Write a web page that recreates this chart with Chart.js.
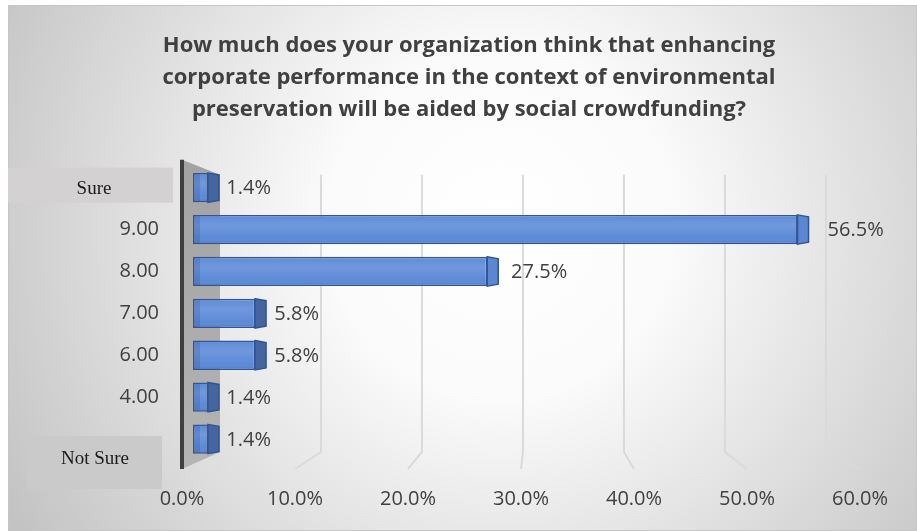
<!DOCTYPE html>
<html>
<head>
<meta charset="utf-8">
<script src="https://cdn.jsdelivr.net/npm/chart.js@4.4.1/dist/chart.umd.min.js"></script>
<style>
  html, body { margin: 0; padding: 0; background: #fff; }
  #wrap { width: 917px; height: 531px; }
</style>
</head>
<body>
<div id="wrap"><canvas id="survey"></canvas></div>
<script>
// Answers, top to bottom
const categories = ['Sure', '9.00', '8.00', '7.00', '6.00', '4.00', 'Not Sure'];
const shares = [1.4, 56.5, 27.5, 5.8, 5.8, 1.4, 1.4];
const axisTicks = [0, 10, 20, 30, 40, 50, 60];
const boxedLabels = ['Sure', 'Not Sure'];
const titleLines = [
    'How much does your organization think that enhancing',
    'corporate performance in the context of environmental',
    'preservation will be aided by social crowdfunding?'
];

const SANS = "'Open Sans', 'DejaVu Sans', sans-serif";
const SERIF = "'Liberation Serif', 'DejaVu Serif', serif";
const TEXT = '#404040';

// Panel background with the soft radial fill
const panelPlugin = {
    id: 'panel',
    beforeDraw(chart) {
        const { ctx, width, height } = chart;
        ctx.save();
        ctx.fillStyle = '#ffffff';
        ctx.fillRect(0, 0, width, height);
        const g = ctx.createRadialGradient(500, 225, 0, 500, 225, 570);
        g.addColorStop(0, '#ffffff');
        g.addColorStop(0.3, '#fbfbfb');
        g.addColorStop(1, '#c3c3c3');
        ctx.fillStyle = g;
        ctx.fillRect(8, 5, width - 8, height - 5);
        ctx.strokeStyle = '#c6c6c6';
        ctx.lineWidth = 1;
        ctx.strokeRect(8.5, 5.5, width - 9, height - 6);
        ctx.restore();
    }
};

// Back wall gridlines, floor returns and the left side wall
const wallPlugin = {
    id: 'wall',
    beforeDatasetsDraw(chart) {
        const { ctx, chartArea: a, scales } = chart;
        const front = scales.xl, back = scales.xb;
        const backTop = a.top + 8, backBottom = a.bottom - 8;
        const frontTop = a.top - 7, frontBottom = a.bottom + 9;
        ctx.save();
        ctx.strokeStyle = '#dadada';
        ctx.lineWidth = 2;
        axisTicks.slice(1).forEach(v => {
            const bx = back.getPixelForValue(v);
            const fx = front.getPixelForValue(v);
            ctx.beginPath();
            ctx.moveTo(bx, backTop);
            ctx.lineTo(bx, backBottom);
            ctx.lineTo(fx, frontBottom);
            ctx.stroke();
        });

        const f0 = front.getPixelForValue(0), b0 = back.getPixelForValue(0);
        const g = ctx.createLinearGradient(0, frontTop, 0, frontBottom);
        g.addColorStop(0, '#a3a3a3');
        g.addColorStop(1, '#b4b4b4');
        ctx.fillStyle = g;
        ctx.beginPath();
        ctx.moveTo(f0, frontTop);
        ctx.lineTo(b0, backTop);
        ctx.lineTo(b0, backBottom);
        ctx.lineTo(f0, frontBottom);
        ctx.closePath();
        ctx.fill();

        ctx.strokeStyle = '#3f3f3f';
        ctx.lineWidth = 4;
        ctx.beginPath();
        ctx.moveTo(f0, frontTop);
        ctx.lineTo(f0, frontBottom);
        ctx.stroke();
        ctx.restore();
    }
};

// Grey label boxes for the two text answers
const boxLabelPlugin = {
    id: 'boxLabels',
    afterDraw(chart) {
        const { ctx } = chart;
        const y = chart.scales.y;
        ctx.save();
        ctx.font = '19px ' + SERIF;
        ctx.textAlign = 'center';
        ctx.textBaseline = 'middle';
        categories.forEach((c, i) => {
            if (!boxedLabels.includes(c)) return;
            const py = y.getPixelForValue(i);
            if (i === 0) {
                ctx.fillStyle = '#d3d1d1';
                ctx.fillRect(8, py - 20, 165, 35);
                ctx.fillStyle = '#1a1a1a';
                ctx.fillText(c, 94, py + 1);
            } else {
                ctx.fillStyle = '#cacaca';
                ctx.fillRect(27, py - 3, 135, 53);
                ctx.fillStyle = '#1a1a1a';
                ctx.fillText(c, 95, py + 20);
            }
        });
        ctx.restore();
    }
};

// Depth faces of the bars and value labels
const barFacePlugin = {
    id: 'barFaces',
    afterDatasetsDraw(chart) {
        const { ctx } = chart;
        const meta = chart.getDatasetMeta(0);
        const depth = 11;
        ctx.save();
        meta.data.forEach((bar, i) => {
            const { x, y, base, height } = bar.getProps(['x', 'y', 'base', 'height'], true);
            const top = y - height / 2, bottom = y + height / 2;
            const len = x - base;

            // shading across the front face
            const sh = ctx.createLinearGradient(0, top, 0, bottom);
            sh.addColorStop(0, 'rgba(255,255,255,0.05)');
            sh.addColorStop(0.35, 'rgba(255,255,255,0.16)');
            sh.addColorStop(0.8, 'rgba(255,255,255,0.04)');
            sh.addColorStop(1, 'rgba(20,50,110,0.25)');
            ctx.fillStyle = sh;
            ctx.fillRect(base + 1, top + 1, len - 2, height - 2);
            ctx.fillStyle = 'rgba(30,60,130,0.18)';
            ctx.fillRect(base + 1, top + 1, 6, height - 2);

            // right end face
            ctx.beginPath();
            ctx.moveTo(x, top);
            ctx.lineTo(x + depth, top + 2);
            ctx.lineTo(x + depth, bottom - 2);
            ctx.lineTo(x, bottom);
            ctx.closePath();
            ctx.fillStyle = len > 200 ? '#5c86d0' : '#46659f';
            ctx.fill();
            ctx.strokeStyle = '#2f5597';
            ctx.lineWidth = 1.5;
            ctx.stroke();

            ctx.fillStyle = TEXT;
            ctx.font = '20px ' + SANS;
            ctx.textAlign = 'left';
            ctx.textBaseline = 'middle';
            ctx.fillText(shares[i].toFixed(1) + '%', x + 18 + len * 0.02, y + 1);
        });
        ctx.restore();
    }
};

const chart = new Chart(document.getElementById('survey'), {
    type: 'bar',
    data: {
        labels: categories,
        datasets: [{
            data: shares,
            xAxisID: 'x',
            backgroundColor: '#5585d6',
            borderColor: '#2f5597',
            borderWidth: 1.5,
            borderSkipped: false,
            barPercentage: 1,
            categoryPercentage: 0.7
        }]
    },
    options: {
        indexAxis: 'y',
        responsive: true,
        maintainAspectRatio: false,
        animation: false,
        layout: { padding: { left: 78, right: 57, top: 0, bottom: 0 } },
        plugins: {
            legend: { display: false },
            tooltip: { enabled: false },
            title: {
                display: true,
                text: titleLines,
                color: TEXT,
                font: { family: SANS, size: 22, weight: 'bold', lineHeight: 1.45 },
                padding: { top: 30, bottom: 41 }
            }
        },
        scales: {
            // bar plane
            x: { type: 'linear', display: false, min: -1.028, max: 62.34 },
            // back wall plane
            xb: { type: 'linear', display: false, min: -3.76, max: 63.37 },
            // front edge, carries the tick labels
            xl: {
                type: 'linear',
                position: 'bottom',
                min: 0,
                max: 60,
                afterBuildTicks: s => { s.ticks = axisTicks.map(v => ({ value: v })); },
                afterFit: s => { s.height = 71; },
                grid: { display: false, drawTicks: false },
                border: { display: false },
                ticks: {
                    padding: 27,
                    color: TEXT,
                    font: { family: SANS, size: 20 },
                    callback: v => v.toFixed(1) + '%'
                }
            },
            y: {
                afterFit: s => { s.width = 104; },
                grid: { display: false, drawTicks: false },
                border: { display: false },
                ticks: {
                    padding: 23,
                    color: TEXT,
                    font: { family: SANS, size: 20 },
                    callback: (v, i) => boxedLabels.includes(categories[i]) ? '' : categories[i]
                }
            }
        }
    },
    plugins: [panelPlugin, wallPlugin, boxLabelPlugin, barFacePlugin]
});
</script>
</body>
</html>
